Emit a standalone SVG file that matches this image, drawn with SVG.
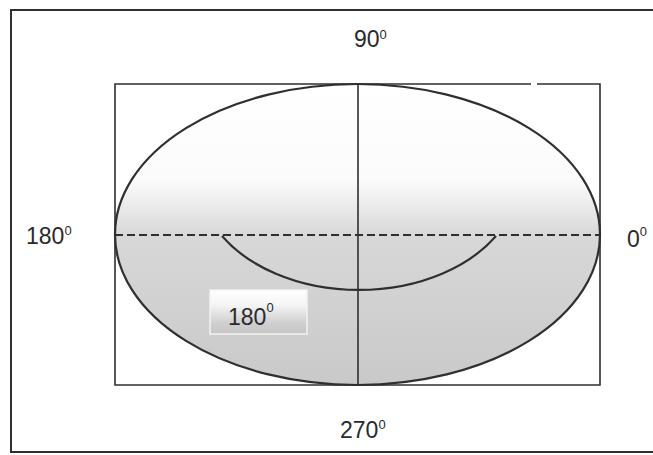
<svg xmlns="http://www.w3.org/2000/svg" width="653" height="455" viewBox="0 0 653 455">
  <style>
    .lbl { font-family: "Liberation Sans", Arial, sans-serif; font-size: 23px; fill: #2a2a2a; }
    .sup { font-size: 13px; }
    .ln { fill: none; stroke: #2f2f2f; }
    .ell { fill: url(#ellFill); stroke: #2f2f2f; }
  </style>
  <defs>
    <linearGradient id="ellFill" x1="0" y1="0" x2="0" y2="1">
      <stop offset="0" stop-color="#ffffff"/>
      <stop offset="0.32" stop-color="#fbfbfb"/>
      <stop offset="0.5" stop-color="#d8d8d8"/>
      <stop offset="1" stop-color="#c9c9c9"/>
    </linearGradient>
    <linearGradient id="boxFill" x1="0" y1="0" x2="0" y2="1">
      <stop offset="0" stop-color="#ffffff"/>
      <stop offset="0.35" stop-color="#f4f4f4"/>
      <stop offset="0.75" stop-color="#cfcfcf"/>
      <stop offset="1" stop-color="#c6c6c6"/>
    </linearGradient>
  </defs>
  <rect width="653" height="455" fill="#ffffff"/>
  <path class="ln" d="M660 10 H11 V452 H660" stroke-width="2"/>
  <g id="frame">
    <path class="ln" d="M531 84 H115 V385 H600 V84 H537" stroke-width="1.6"/>
  </g>
  <g id="ellipse">
    <ellipse cx="357.5" cy="234.5" rx="242.5" ry="150.5" class="ell" stroke-width="2.2"/>
  </g>
  <g id="connectors">
    <line class="ln" x1="358" y1="84" x2="358" y2="385" stroke-width="1.6"/>
    <line class="ln" x1="115" y1="235" x2="599" y2="235" stroke-width="1.8" stroke-dasharray="8,4"/>
    <path class="ln" d="M222 236 A160 111.6 0 0 0 496 236" stroke-width="2.2"/>
  </g>
  <g id="box">
    <rect x="210" y="290" width="97" height="44" fill="url(#boxFill)" stroke="#f2f2f2" stroke-width="1.5"/>
    <text class="lbl" x="228" y="325">180<tspan class="sup" dy="-13">0</tspan></text>
  </g>
  <g id="label-90"><text class="lbl" x="354" y="47">90<tspan class="sup" dy="-8">0</tspan></text></g>
  <g id="label-180"><text class="lbl" x="26" y="244">180<tspan class="sup" dy="-9">0</tspan></text></g>
  <g id="label-0"><text class="lbl" x="627" y="247">0<tspan class="sup" dy="-11">0</tspan></text></g>
  <g id="label-270"><text class="lbl" x="340" y="438">270<tspan class="sup" dy="-9">0</tspan></text></g>
</svg>
